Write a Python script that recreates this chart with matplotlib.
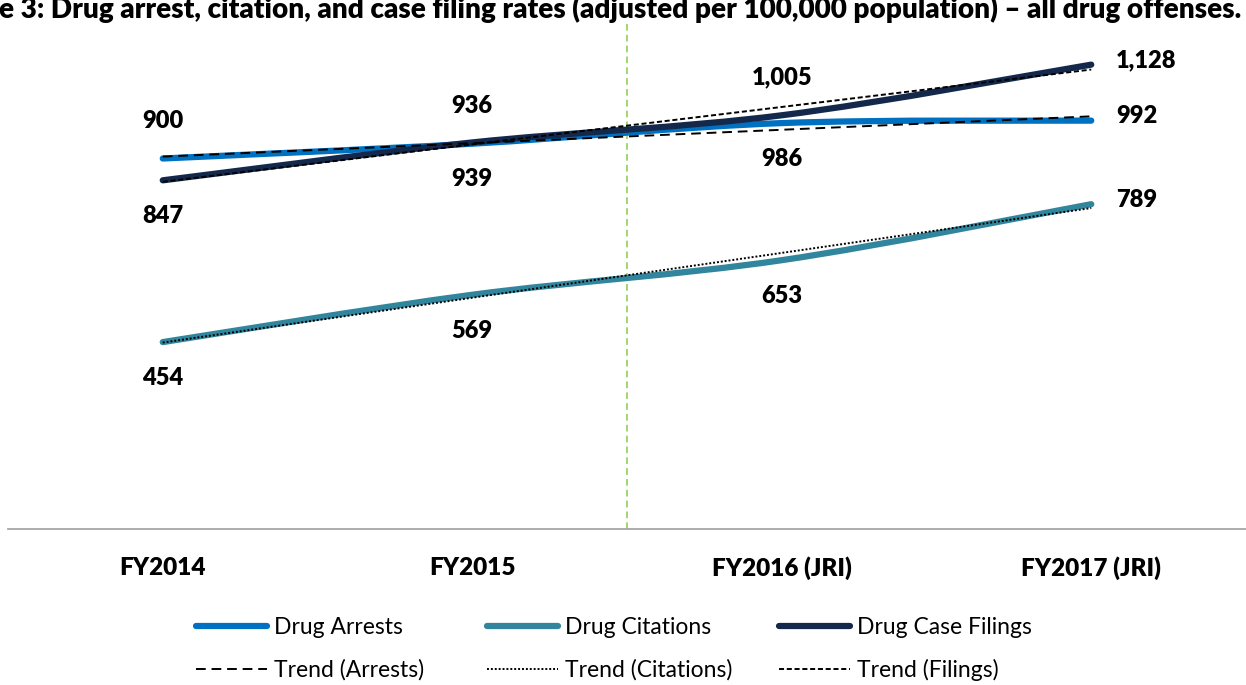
import numpy as np
import matplotlib
matplotlib.use("Agg")
import matplotlib.pyplot as plt
from matplotlib.path import Path
from matplotlib.patches import PathPatch
from matplotlib.lines import Line2D

# ---------------- data ----------------
categories = ["FY2014", "FY2015", "FY2016 (JRI)", "FY2017 (JRI)"]
arrests = [900, 936, 986, 992]
citations = [454, 569, 653, 789]
filings = [847, 939, 1005, 1128]
title_text = ("Figure 3: Drug arrest, citation, and case filing rates "
              "(adjusted per 100,000 population) \u2013 all drug offenses.")

# ---------------- style ----------------
FONT = ["Lato", "DejaVu Sans"]
plt.rcParams["font.family"] = FONT
C_ARR = "#0070C0"
C_CIT = "#31859C"
C_FIL = "#14284B"
BOLD = "heavy"

W, H = 1246, 685
fig = plt.figure(figsize=(W / 100, H / 100), dpi=100)
ax = fig.add_axes([8 / W, 1 - 529 / H, 1 - 8 / W, (529 - 35) / H])
ax.set_xlim(-0.5, 3.5)
ax.set_ylim(0, 1200)

x = np.arange(len(categories))


def smooth_path(xs, ys):
    """Excel-style smoothed line as cubic Bezier segments through the data."""
    pts = np.column_stack([xs, ys]).astype(float)
    n = len(pts)
    verts = [pts[0]]
    codes = [Path.MOVETO]
    for i in range(n - 1):
        p0 = pts[i - 1] if i > 0 else pts[i]
        p1 = pts[i]
        p2 = pts[i + 1]
        p3 = pts[i + 2] if i + 2 < n else pts[i + 1]
        c1 = p1 + (p2 - p0) / 6.0
        c2 = p2 - (p3 - p1) / 6.0
        verts += [c1, c2, p2]
        codes += [Path.CURVE4] * 3
    return Path(verts, codes)


series = [
    ("Drug Arrests", arrests, C_ARR),
    ("Drug Citations", citations, C_CIT),
    ("Drug Case Filings", filings, C_FIL),
]
LW = 4.5
for name, vals, col in series:
    pp = PathPatch(smooth_path(x, vals), fill=False, edgecolor=col, lw=LW,
                   capstyle="round", joinstyle="round", zorder=3)
    ax.add_patch(pp)

# trend lines (linear fits)
trend_styles = [
    ("Trend (Arrests)", arrests, (0, (5, 3))),
    ("Trend (Citations)", citations, (0, (1, 1))),
    ("Trend (Filings)", filings, (0, (2.6, 1.4))),
]
for name, vals, ls in trend_styles:
    k, b = np.polyfit(x, vals, 1)
    xe = np.array([x[0], x[-1]])
    ax.plot(xe, k * xe + b, color="black", lw=1.4, ls=ls, zorder=4)

# data labels
label_pos = {
    "arr": ["above", "above", "below", "right"],
    "cit": ["below", "below", "below", "right"],
    "fil": ["below", "below", "above", "right"],
}
offs = {"above": (0, 27), "below": (0, -26), "right": (18, 3)}
for key, vals in (("arr", arrests), ("cit", citations), ("fil", filings)):
    for xi, v, pos in zip(x, vals, label_pos[key]):
        dx, dy = offs[pos]
        ax.annotate(f"{v:,}", (xi, v), xytext=(dx, dy), textcoords="offset points",
                    ha="left" if pos == "right" else "center", va="center",
                    fontsize=17, fontweight=BOLD, color="black", zorder=5)

# JRI divider
ax.axvline(1.5, ymin=0, ymax=1.022, color="#92D050", lw=1.2, ls=(0, (4, 2.5)),
           clip_on=False, zorder=2)

# axes styling
for s in ("left", "right", "top"):
    ax.spines[s].set_visible(False)
ax.spines["bottom"].set_color("#A6A6A6")
ax.spines["bottom"].set_linewidth(1.3)
ax.set_yticks([])
ax.set_xticks(x)
ax.set_xticklabels(categories, fontsize=17.5, fontweight=BOLD)
ax.tick_params(axis="x", length=0, pad=20)

# legends (three columns of two entries)
leg_handles = [
    [Line2D([], [], color=C_ARR, lw=LW, solid_capstyle="round"),
     Line2D([], [], color="black", lw=1.4, ls=trend_styles[0][2])],
    [Line2D([], [], color=C_CIT, lw=LW, solid_capstyle="round"),
     Line2D([], [], color="black", lw=1.4, ls=trend_styles[1][2])],
    [Line2D([], [], color=C_FIL, lw=LW, solid_capstyle="round"),
     Line2D([], [], color="black", lw=1.4, ls=trend_styles[2][2])],
]
leg_labels = [[series[i][0], trend_styles[i][0]] for i in range(3)]
col_x = [196, 487, 779]
for hs, ls_, cx in zip(leg_handles, leg_labels, col_x):
    fig.legend(hs, ls_, loc="center left", bbox_to_anchor=(cx / W, 1 - 649 / H),
               frameon=False, fontsize=16.5, handlelength=3.1, handletextpad=0.3,
               labelspacing=0.9, borderpad=0, borderaxespad=0)

# title (cut off at the left edge like the reference)
t = fig.text(1241 / W, 1 - 9 / H, title_text, ha="right", va="center",
             fontsize=15, fontweight=BOLD)
fig.canvas.draw()
r = fig.canvas.get_renderer()
suffix = title_text[title_text.index("e 3:"):]
fs = 15.0
for _ in range(4):
    tmp = fig.text(0, 0, suffix, fontsize=fs, fontweight=BOLD)
    w = tmp.get_window_extent(r).width
    tmp.remove()
    fs = fs * 1241 / w
t.set_fontsize(fs)

fig.savefig("out.png", dpi=100)
